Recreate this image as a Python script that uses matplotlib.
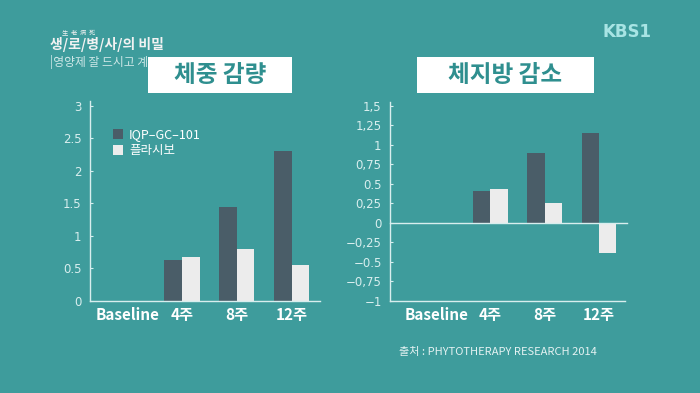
import matplotlib.pyplot as plt
from matplotlib.patches import Rectangle

plt.rcParams['font.family'] = ['Noto Sans CJK KR', 'DejaVu Sans']

categories = ['Baseline', '4주', '8주', '12주']
weight_iqp = [0, 0.63, 1.45, 2.31]
weight_placebo = [0, 0.67, 0.80, 0.55]
fat_iqp = [0, 0.41, 0.90, 1.15]
fat_placebo = [0, 0.43, 0.25, -0.39]

weight_ticks = [0, 0.5, 1, 1.5, 2, 2.5, 3]
weight_ticklabels = ['0', '0.5', '1', '1.5', '2', '2.5', '3']
fat_ticks = [-1, -0.75, -0.5, -0.25, 0, 0.25, 0.5, 0.75, 1, 1.25, 1.5]
fat_ticklabels = ['\u22121', '\u22120,75', '\u22120.5', '\u22120,25', '0', '0,25',
                  '0.5', '0,75', '1', '1,25', '1,5']

BG = '#3e9c9c'
DARK = '#4a5d68'
LIGHT = '#ececec'
AXIS = '#d8eeee'
W, H = 700, 393


def px_axes(fig, x0, y_top, x1, y_bot):
    return fig.add_axes([x0 / W, 1 - y_bot / H, (x1 - x0) / W, (y_bot - y_top) / H])


def style_axes(ax, ticks, labels, ylim, xlim):
    ax.set_facecolor('none')
    for s in ['top', 'right']:
        ax.spines[s].set_visible(False)
    for s in ['left', 'bottom']:
        ax.spines[s].set_color(AXIS)
        ax.spines[s].set_linewidth(1.0)
    ax.set_ylim(*ylim)
    ax.set_xlim(*xlim)
    ax.set_yticks(ticks)
    ax.set_yticklabels(labels, fontsize=8.5, color=AXIS, family='DejaVu Sans')
    ax.tick_params(axis='y', direction='in', length=2, color=AXIS, pad=6)
    ax.set_xticks(range(len(categories)))
    ax.set_xticklabels(categories, fontsize=11, color='white', fontweight='bold')
    ax.tick_params(axis='x', length=0, pad=4)


fig = plt.figure(figsize=(7, 3.93), dpi=100)
fig.patch.set_facecolor(BG)

bw = 0.32
x = list(range(len(categories)))

# left: weight loss
ax1 = px_axes(fig, 90, 101, 320, 301)
ax1.bar([i - bw / 2 for i in x], weight_iqp, bw, color=DARK, label='IQP\u2013GC\u2013101')
ax1.bar([i + bw / 2 for i in x], weight_placebo, bw, color=LIGHT, label='플라시보')
style_axes(ax1, weight_ticks, weight_ticklabels, (0, 3.07), (-0.68, 3.52))
for lbl in ax1.get_xticklabels()[:1]:
    lbl.set_x(-0.12)
leg = ax1.legend(loc='upper left', bbox_to_anchor=(0.05, 0.92), frameon=False,
                 fontsize=9, handlelength=0.8, handleheight=0.8, handletextpad=0.5,
                 labelspacing=0.25, labelcolor='white')

# right: body fat loss
ax2 = px_axes(fig, 390, 102, 625, 301)
ax2.bar([i - bw / 2 for i in x], fat_iqp, bw, color=DARK)
ax2.bar([i + bw / 2 for i in x], fat_placebo, bw, color=LIGHT)
ax2.axhline(0, color=AXIS, lw=1.0, xmax=1.01, clip_on=False)
style_axes(ax2, fat_ticks, fat_ticklabels, (-1, 1.55), (-0.85, 3.48))

# title boxes
for (x0, x1, title) in [(148, 292, '체중 감량'), (417, 594, '체지방 감소')]:
    fig.patches.append(Rectangle((x0 / W, 1 - 93 / H), (x1 - x0) / W, 36 / H,
                                 transform=fig.transFigure, facecolor='white',
                                 edgecolor='none', zorder=5))
    fig.text((x0 + x1) / 2 / W, 1 - 75 / H, title, ha='center', va='center',
             fontsize=17, fontweight='black', color='#2f8f8f', zorder=6)

# broadcast overlay
fig.text(50 / W, 1 - 45 / H, '생/로/병/사/의 비밀', fontsize=10, fontweight='bold',
         color='#f2f2f2', va='center', zorder=2)
fig.text(62 / W, 1 - 32 / H, '生  老  病  死', fontsize=4.5, color='#f2f2f2',
         va='center', zorder=2)
fig.text(50 / W, 1 - 62 / H, '|영양제 잘 드시고 계', fontsize=8.5, color='#cfe8e8',
         va='center', zorder=2)
fig.text(602 / W, 1 - 32 / H, 'KBS1', fontsize=12, fontweight='bold', color='#a8e4e4',
         va='center', family='DejaVu Sans')

fig.text(399 / W, 1 - 352 / H, '출처 : PHYTOTHERAPY RESEARCH 2014', fontsize=8,
         color='#e4f2f2', va='center')

fig.savefig('out.png', dpi=100, facecolor=BG)
